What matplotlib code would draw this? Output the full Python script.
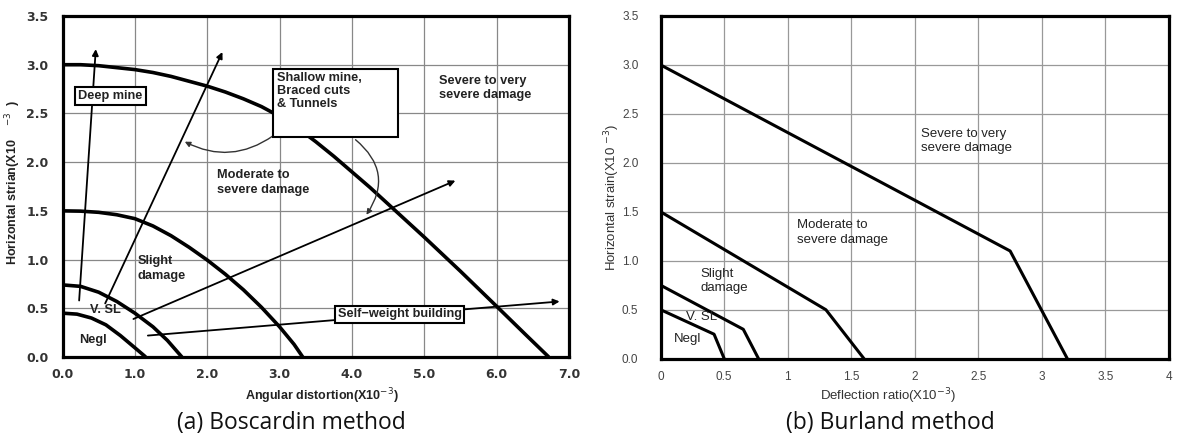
import matplotlib
matplotlib.use("Agg")
import matplotlib.pyplot as plt
from matplotlib.patches import Rectangle, FancyArrowPatch

# ---------------- data: (a) Boscardin ----------------
severe_a_x = [0.0, 0.25, 0.5, 0.75, 1.0, 1.25, 1.5, 1.75, 2.0, 2.25, 2.5, 2.75, 3.0, 3.25,
              3.5, 3.75, 4.0, 4.25, 4.5, 4.75, 5.0, 5.5, 6.0, 6.4, 6.72]
severe_a_y = [3.0, 3.0, 2.99, 2.97, 2.95, 2.92, 2.88, 2.83, 2.78, 2.72, 2.65, 2.57, 2.47, 2.35,
              2.21, 2.06, 1.9, 1.74, 1.57, 1.4, 1.23, 0.88, 0.52, 0.23, 0.0]
moderate_a_x = [0.0, 0.25, 0.5, 0.75, 1.0, 1.25, 1.5, 1.75, 2.0, 2.25, 2.5, 2.75, 3.0, 3.2, 3.32]
moderate_a_y = [1.5, 1.497, 1.485, 1.46, 1.42, 1.345, 1.245, 1.126, 0.995, 0.85, 0.69, 0.51,
                0.31, 0.13, 0.0]
vsl_a_x = [0.0, 0.25, 0.5, 0.75, 1.0, 1.25, 1.45, 1.65]
vsl_a_y = [0.74, 0.725, 0.665, 0.57, 0.45, 0.31, 0.17, 0.0]
negl_a_x = [0.0, 0.2, 0.4, 0.6, 0.8, 1.0, 1.15]
negl_a_y = [0.45, 0.44, 0.40, 0.33, 0.22, 0.095, 0.0]

# arrows (start, end)
deep_arrow = ((0.23, 0.58), (0.46, 3.16))
shallow_arrow = ((0.59, 0.55), (2.21, 3.13))
moderate_arrow = ((0.98, 0.39), (5.43, 1.81))
selfweight_arrow = ((1.18, 0.22), (6.87, 0.57))
curved_arrow_1 = ((2.91, 2.27), (1.69, 2.21))
curved_arrow_2 = ((4.05, 2.23), (4.2, 1.46))

a_xticks = [0, 1, 2, 3, 4, 5, 6, 7]
a_xticklabels = ["0.0", "1.0", "2.0", "3.0", "4.0", "5.0", "6.0", "7.0"]
yticks = [0, 0.5, 1.0, 1.5, 2.0, 2.5, 3.0, 3.5]
yticklabels = ["0.0", "0.5", "1.0", "1.5", "2.0", "2.5", "3.0", "3.5"]

# ---------------- data: (b) Burland ----------------
severe_b_x = [0.0, 2.75, 3.2]
severe_b_y = [3.0, 1.1, 0.0]
moderate_b_x = [0.0, 1.3, 1.6]
moderate_b_y = [1.5, 0.5, 0.0]
vsl_b_x = [0.0, 0.65, 0.77]
vsl_b_y = [0.75, 0.3, 0.0]
negl_b_x = [0.0, 0.42, 0.5]
negl_b_y = [0.5, 0.25, 0.0]
b_xticks = [0, 0.5, 1, 1.5, 2, 2.5, 3, 3.5, 4]
b_xticklabels = ["0", "0.5", "1", "1.5", "2", "2.5", "3", "3.5", "4"]

W, H = 1178, 443
fig = plt.figure(figsize=(W / 100, H / 100), dpi=100)
fig.patch.set_facecolor("white")

# ---------------- panel (a) ----------------
axa = fig.add_axes([62.5 / W, 1 - 357 / H, (569 - 62.5) / W, (357 - 16) / H])
axa.set_xlim(0, 7)
axa.set_ylim(0, 3.5)
axa.set_xticks(a_xticks)
axa.set_xticklabels(a_xticklabels)
axa.set_yticks(yticks)
axa.set_yticklabels(yticklabels)
for lab in axa.get_xticklabels() + axa.get_yticklabels():
    lab.set_fontfamily("DejaVu Sans")
    lab.set_fontweight("bold")
    lab.set_fontsize(9)
    lab.set_color("#333333")
axa.tick_params(axis="both", length=0)
axa.tick_params(axis="y", pad=10)
axa.tick_params(axis="x", pad=8)
axa.grid(True, color="#888888", lw=0.9)
axa.set_axisbelow(True)
for s in axa.spines.values():
    s.set_linewidth(2.3)

lw_a = 2.6
for xs, ys in [(severe_a_x, severe_a_y), (moderate_a_x, moderate_a_y),
               (vsl_a_x, vsl_a_y), (negl_a_x, negl_a_y)]:
    axa.plot(xs, ys, color="black", lw=lw_a, solid_capstyle="butt",
             solid_joinstyle="round", zorder=3)

for (p0, p1) in [deep_arrow, shallow_arrow, moderate_arrow, selfweight_arrow]:
    axa.add_patch(FancyArrowPatch(p0, p1, arrowstyle="-|>", mutation_scale=9,
                                  lw=1.3, color="black", shrinkA=0, shrinkB=0, zorder=4))
axa.add_patch(FancyArrowPatch(curved_arrow_1[0], curved_arrow_1[1], arrowstyle="-|>",
                              mutation_scale=8, lw=1.0, color="#333333",
                              connectionstyle="arc3,rad=-0.3", shrinkA=0, shrinkB=0, zorder=4))
axa.add_patch(FancyArrowPatch(curved_arrow_2[0], curved_arrow_2[1], arrowstyle="-|>",
                              mutation_scale=8, lw=1.0, color="#333333",
                              connectionstyle="arc3,rad=-0.45", shrinkA=0, shrinkB=0, zorder=4))

# shallow mine box
axa.add_patch(Rectangle((2.91, 2.26), 4.63 - 2.91, 2.96 - 2.26, facecolor="white",
                        edgecolor="black", lw=1.5, zorder=5))
fa = dict(family="Liberation Sans", weight="bold", fontsize=9.2, color="#222222")
axa.text(2.96, 2.93, "Shallow mine,\nBraced cuts\n& Tunnels", va="top", ha="left",
         linespacing=1.15, zorder=6, **fa)
axa.text(0.66, 2.68, "Deep mine", ha="center", va="center", zorder=6,
         bbox=dict(boxstyle="square,pad=0.25", fc="white", ec="black", lw=1.5), **fa)
axa.text(4.66, 0.44, "Self\u2212weight building", ha="center", va="center", zorder=6,
         bbox=dict(boxstyle="square,pad=0.2", fc="white", ec="black", lw=1.5), **fa)
axa.text(5.21, 2.76, "Severe to very\nsevere damage", ha="left", va="center", linespacing=1.3, **fa)
axa.text(2.13, 1.79, "Moderate to\nsevere damage", ha="left", va="center", linespacing=1.3, **fa)
axa.text(1.04, 0.91, "Slight\ndamage", ha="left", va="center", linespacing=1.3, **fa)
axa.text(0.38, 0.48, "V. SL", ha="left", va="center", **fa)
axa.text(0.23, 0.17, "Negl", ha="left", va="center", **fa)

fig.text(322 / W, 1 - 396 / H, r"Angular distortion(X10$^{-3}$)", ha="center", va="center",
         family="Liberation Sans", weight="bold", fontsize=9, color="#222222")
fig.text(13 / W, 1 - 183 / H, r"Horizontal strian(X10    $^{-3}$  )", ha="center", va="center",
         rotation=90, family="Liberation Sans", weight="bold", fontsize=9, color="#222222")

# ---------------- panel (b) ----------------
axb = fig.add_axes([660.7 / W, 1 - 358.7 / H, (1169 - 660.7) / W, (358.7 - 16) / H])
axb.set_xlim(0, 4)
axb.set_ylim(0, 3.5)
axb.set_xticks(b_xticks)
axb.set_xticklabels(b_xticklabels)
axb.set_yticks(yticks)
axb.set_yticklabels(yticklabels)
for lab in axb.get_xticklabels() + axb.get_yticklabels():
    lab.set_fontfamily("Liberation Sans")
    lab.set_fontsize(8.5)
    lab.set_color("#444444")
axb.tick_params(axis="both", length=0)
axb.tick_params(axis="y", pad=16)
axb.tick_params(axis="x", pad=9)
axb.grid(True, color="#999999", lw=0.9)
axb.set_axisbelow(True)
for s in axb.spines.values():
    s.set_linewidth(2.3)

for xs, ys in [(severe_b_x, severe_b_y), (moderate_b_x, moderate_b_y),
               (vsl_b_x, vsl_b_y), (negl_b_x, negl_b_y)]:
    axb.plot(xs, ys, color="black", lw=2.2, zorder=3)

fb = dict(family="Liberation Sans", fontsize=9.5, color="#222222")
axb.text(2.05, 2.22, "Severe to very\nsevere damage", ha="left", va="center", linespacing=1.25, **fb)
axb.text(1.07, 1.29, "Moderate to\nsevere damage", ha="left", va="center", linespacing=1.25, **fb)
axb.text(0.31, 0.79, "Slight\ndamage", ha="left", va="center", linespacing=1.25, **fb)
axb.text(0.2, 0.43, "V. SL", ha="left", va="center", **fb)
axb.text(0.1, 0.2, "Negl", ha="left", va="center", **fb)

fig.text(888 / W, 1 - 396 / H, r"Deflection ratio(X10$^{-3}$)", ha="center", va="center",
         family="Liberation Sans", fontsize=9.5, color="#333333")
fig.text(612 / W, 1 - 197 / H, r"Horizontal strain(X10 $^{-3}$)", ha="center", va="center",
         rotation=90, family="Liberation Sans", fontsize=9.5, color="#333333")

# captions
fig.text(291 / W, 1 - 423 / H, "(a) Boscardin method", ha="center", va="center",
         family="Open Sans", fontsize=16.5, color="#111111")
fig.text(890 / W, 1 - 423 / H, "(b) Burland method", ha="center", va="center",
         family="Open Sans", fontsize=16.5, color="#111111")

fig.savefig("out.png", dpi=100, facecolor="white")
